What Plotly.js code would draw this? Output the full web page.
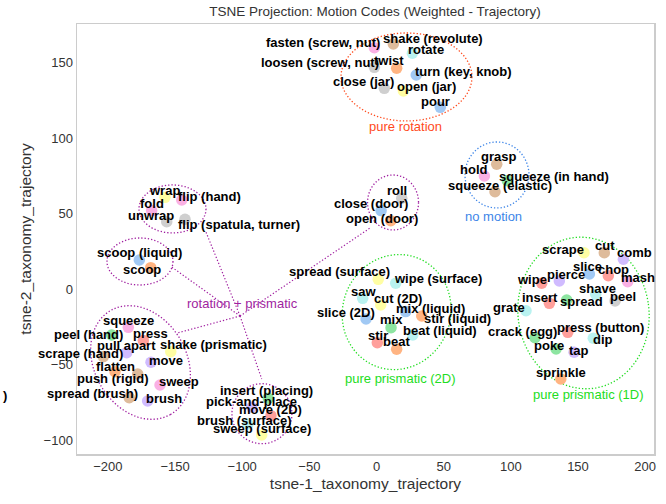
<!DOCTYPE html>
<html><head><meta charset="utf-8">
<script src="https://cdn.plot.ly/plotly-3.0.1.min.js"></script>
<style>html,body{margin:0;padding:0;background:#fff}#chart{width:666px;height:504px}</style>
</head><body><div id="chart"></div>
<script>
// ---- data ----
const motions = ["fasten (screw, nut)","shake (revolute)","rotate","loosen (screw, nut)","twist","turn (key, knob)","close (jar)","open (jar)","pour",
 "grasp","hold","squeeze (in hand)","squeeze (elastic)",
 "wrap","flip (hand)","fold","unwrap","flip (spatula, turner)",
 "scoop (liquid)","scoop",
 "roll","close (door)","open (door)",
 "spread (surface)","wipe (surface)","saw","cut (2D)","slice (2D)","mix (liquid)","stir (liquid)","mix","beat (liquid)","stir","beat",
 "scrape","cut","comb","slice","chop","mash","wipe","pierce","shave","peel","insert","spread","grate","crack (egg)","press (button)","dip","poke","tap","sprinkle",
 "squeeze","peel (hand)","press","pull apart","shake (prismatic)","scrape (hand)","move","flatten","push (rigid)","sweep","spread (brush)","brush",
 "insert (placing)","pick-and-place","move (2D)","brush (surface)","sweep (surface)"];
const tsne1 = [-1.6,12.5,26.7,-1.6,15.0,29.6,5.8,20.0,47.5,
 89.5,80.3,97.4,88.2,
 -157.5,-145.0,-167.4,-156.2,-142.6,
 -176.6,-168.1,
 18.8,3.4,10.6,
 1.3,14.3,-10.3,3.1,-7.8,21.7,33.7,10.8,27.0,0.6,15.0,
 154.5,169.6,183.8,158.5,172.6,187.0,123.0,136.1,163.2,177.6,128.7,141.6,111.3,118.0,142.4,161.4,133.7,147.1,137.2,
 -184.8,-197.2,-173.6,-186.0,-153.2,-203.4,-167.9,-194.7,-177.8,-161.2,-184.1,-170.4,
 -80.6,-92.9,-78.6,-95.7,-85.5];
const tsne2 = [159.8,162.3,156.1,146.8,146.2,141.7,132.9,131.1,120.3,
 82.6,74.8,71.7,64.4,
 60.7,58.9,51.9,44.6,46.2,
 19.2,14.1,
 60.1,51.9,45.2,
 6.4,3.8,-6.2,-10.6,-19.9,-15.0,-17.9,-25.6,-30.5,-35.6,-39.9,
 24.0,24.0,19.7,9.9,8.8,4.8,3.8,5.3,-3.5,-7.9,-9.5,-7.3,-14.4,-32.3,-28.7,-32.6,-39.7,-41.9,-59.6,
 -25.4,-30.5,-34.2,-42.2,-41.5,-44.8,-48.5,-54.8,-56.3,-63.6,-72.0,-74.2,
 -72.4,-78.3,-83.9,-89.4,-96.7];
const colorKey = ["pink","brown","cyan","gray","orange","blue","gray","yellow","blue",
 "brown","pink","green","brown",
 "yellow","pink","pink","gray","gray",
 "blue","orange",
 "gray","blue","orange",
 "yellow","cyan","cyan","yellow","blue","blue","orange","green","cyan","red","orange",
 "yellow","brown","purple","blue","red","pink","red","purple","cyan","gray","red","green","cyan","green","red","cyan","green","purple","orange",
 "pink","green","red","purple","yellow","brown","purple","orange","brown","pink","brown","purple",
 "green","purple","red","cyan","yellow"];
const xTicks = [-200,-150,-100,-50,0,50,100,150,200];
const yTicks = [-100,-50,0,50,100,150];
const groupNames = ["pure rotation","no motion","pure prismatic (2D)","pure prismatic (1D)","rotation + prismatic"];
const groupLabelX = [21.7,87,17.5,157.5,-100];
const groupLabelY = [107.5,48.3,-59,-70.2,-9.3];

// ---- styling ----
const FONT = 'Liberation Sans, Arial, sans-serif';
const pastel = {blue:'#a1c9f4',orange:'#ffb482',green:'#8de5a1',red:'#ff9f9b',purple:'#d0bbff',brown:'#debb9b',pink:'#fab0e4',gray:'#cfcfcf',yellow:'#fffea3',cyan:'#b9f2f0'};
// label offsets in px (dx right, dy down)
const labelOff = [[-51,-5.4],[40,-5],[13.7,-4],[-54.3,-4.6],[-7.4,-7.6],[47,-4],[-21,-6.6],[23.4,-5],[-4.6,-6.3],
 [1.6,-7.6],[-11,-6.7],[46.7,-4.7],[5,-6.7],
 [0,-7.3],[27.3,-4],[0,-7.4],[-15.7,-5.7],[54,5],
 [0,-7.3],[-9,2.3],
 [-5,-7.3],[-10,-7.4],[-9,-2.4],
 [-39,-7.6],[42,-4.5],[0.6,-7.3],[17.6,-6],[-20,-6.7],[25,-3.4],[36,2],[0.7,-7.7],[27,-5],[0.4,-7.7],[0,-7.6],
 [-20.7,-3.7],[0.7,-7.7],[11,-7],[-2,-7.3],[5,-6.4],[10.3,-4],[-10,-3.3],[6.7,-6.7],[2,-6],[8.3,-4.3],[-9.3,-5.6],[15,1.7],[-16.7,-3.4],[-12.7,-6.7],[32.3,-4.6],[10,1],[-6.7,-3],[5.3,-1.3],[0,-6.7],
 [0,-7.3],[-23.4,-1],[6.7,-6.7],[0,-6.7],[43,-6.7],[-23.3,-2.7],[14.7,-1.6],[0,-5],[-24.4,5],[19,-4],[-36.6,-4.4],[16.6,-2.7],
 [-1.6,-7.6],[0,-5.6],[0,-5.7],[-3,-3],[0,-6.7]];
const groupColors = ['#ff4a1c','#3d85e8','#22dd22','#22dd22','#a01fa0'];
const PURPLE = '#a01fa0';
const DOTS = '1.3px,2px';
// px per data unit (from axis geometry)
const kx = 577/429.6, ky = 430/284.8;
// ellipses: centre (data), radii px, tilt deg, colour
const ellipses = [
 {cx:22.3, cy:140.4, a:65.5, b:44, t:0, c:groupColors[0]},
 {cx:89.7, cy:75.5, a:32, b:33, t:0, c:groupColors[1]},
 {cx:15.0, cy:-15.3, a:54, b:58, t:20, c:groupColors[2]},
 {cx:154.1, cy:-15.9, a:65.5, b:76, t:-8, c:groupColors[3]},
 {cx:-151.9, cy:53.0, a:33.5, b:24, t:0, c:PURPLE},
 {cx:-176.1, cy:18.2, a:33, b:23.5, t:0, c:PURPLE},
 {cx:12.3, cy:57.3, a:25.5, b:27.5, t:0, c:PURPLE},
 {cx:-175.7, cy:-48.7, a:60, b:46, t:60, c:PURPLE},
 {cx:-85.3, cy:-82.6, a:30, b:30, t:0, c:PURPLE}
];
const hub = [-101.6,-17.9];
const spokes = [[-152.6,14.6],[-127.3,38.4],[-4.8,40.4],[-148.1,-29.1],[-85.5,-59.6]];

function ellPath(e){
  const th = e.t*Math.PI/180; let d='';
  for(let i=0;i<=90;i++){
    const p = i/90*2*Math.PI;
    const dx = e.a*Math.cos(p)*Math.cos(th) - e.b*Math.sin(p)*Math.sin(th);
    const dy = e.a*Math.cos(p)*Math.sin(th) + e.b*Math.sin(p)*Math.cos(th);
    const x = e.cx + dx/kx, y = e.cy - dy/ky;
    d += (i? ' L':'M') + x.toFixed(3)+','+y.toFixed(3);
  }
  return d+' Z';
}

const shapes = ellipses.map(e=>({type:'path',xref:'x',yref:'y',path:ellPath(e),line:{color:e.c,width:1.3,dash:DOTS},layer:'below'}));
spokes.forEach(s=>shapes.push({type:'line',xref:'x',yref:'y',x0:hub[0],y0:hub[1],x1:s[0],y1:s[1],line:{color:PURPLE,width:1.2,dash:DOTS},layer:'below'}));

const annotations = motions.map((m,i)=>({x:tsne1[i],y:tsne2[i],xref:'x',yref:'y',text:m,showarrow:false,
  xshift:labelOff[i][0],yshift:-labelOff[i][1],xanchor:'center',yanchor:'middle',
  font:{family:FONT,size:13,color:'#000',weight:'bold'}}));
groupNames.forEach((g,i)=>annotations.push({x:groupLabelX[i],y:groupLabelY[i],xref:'x',yref:'y',text:g,showarrow:false,
  xanchor:'center',yanchor:'middle',font:{family:FONT,size:13,color:groupColors[i]}}));
annotations.push({x:0,y:0.137,xref:'paper',yref:'paper',xshift:-76,text:')',showarrow:false,xanchor:'left',yanchor:'middle',
  font:{family:FONT,size:13,color:'#000',weight:'bold'}});

const trace = {x:tsne1,y:tsne2,mode:'markers',type:'scatter',hoverinfo:'text',text:motions,
  marker:{size:11.5,color:colorKey.map(k=>pastel[k]),line:{width:0}},cliponaxis:true};

const axisCommon = {showgrid:false,zeroline:false,showline:true,mirror:true,linecolor:'#cccccc',linewidth:1.5,ticks:'',
  tickfont:{family:FONT,size:13,color:'#333'}};
const layout = {width:666,height:504,margin:{l:77,r:12,t:24,b:50},paper_bgcolor:'#fff',plot_bgcolor:'#fff',showlegend:false,
  title:{text:'TSNE Projection: Motion Codes (Weighted - Trajectory)',x:0.563,xanchor:'center',y:0.977,yanchor:'middle',
    font:{family:FONT,size:13.5,color:'#333'}},
  xaxis:Object.assign({},axisCommon,{range:[-223,206.6],tickvals:xTicks,ticktext:xTicks.map(v=>v<0?'\u2212'+(-v):String(v)),
    title:{text:'tsne-1_taxonomy_trajectory',standoff:5,font:{family:FONT,size:15.5,color:'#333'}}}),
  yaxis:Object.assign({},axisCommon,{range:[-109.3,175.5],tickvals:yTicks,ticktext:yTicks.map(v=>v<0?'\u2212'+(-v):String(v)),
    title:{text:'tsne-2_taxonomy_trajectory',standoff:8,font:{family:FONT,size:15.5,color:'#333'}}}),
  shapes:shapes,annotations:annotations};
Plotly.newPlot('chart',[trace],layout,{displayModeBar:false,staticPlot:true});
</script></body></html>
